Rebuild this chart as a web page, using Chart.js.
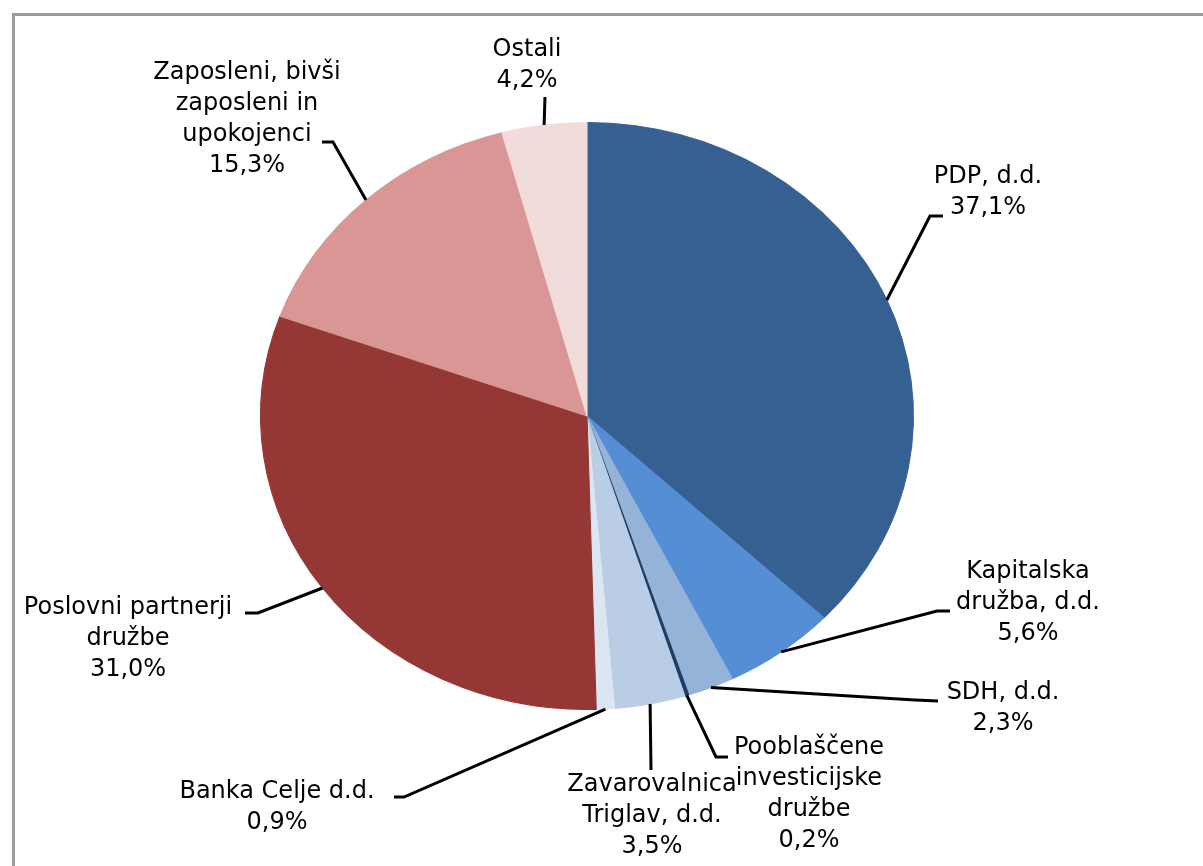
<!DOCTYPE html>
<html lang="sl">
  <head>
    <meta charset="UTF-8" />
    <title>Lastniška struktura</title>
  </head>
  <style>
    * {
      margin: 0;
      padding: 0;
    }
    body {
      width: 1203px;
      height: 866px;
      overflow: hidden;
      background: white;
      position: relative;
    }
    .frame {
      position: absolute;
      left: 12px;
      top: 13px;
      width: 1300px;
      height: 1000px;
      border: 3px solid #9c9c9c;
    }
    .chartBox {
      position: absolute;
      left: 0;
      top: 0;
      width: 1203px;
      height: 866px;
    }
  </style>
  <body>
    <div class="frame"></div>
    <div class="chartBox">
      <canvas id="myChart"></canvas>
    </div>

    <script src="https://cdn.jsdelivr.net/npm/chart.js"></script>

    <script>
      // data, clockwise from 12 o'clock
      const categories = [
        "PDP, d.d.",
        "Kapitalska družba, d.d.",
        "SDH, d.d.",
        "Pooblaščene investicijske družbe",
        "Zavarovalnica Triglav, d.d.",
        "Banka Celje d.d.",
        "Poslovni partnerji družbe",
        "Zaposleni, bivši zaposleni in upokojenci",
        "Ostali"
      ];
      const shares = [37.1, 5.6, 2.3, 0.2, 3.5, 0.9, 31.0, 15.3, 4.2];
      const labelLines = [
        ["PDP, d.d."],
        ["Kapitalska", "družba, d.d."],
        ["SDH, d.d."],
        ["Pooblaščene", "investicijske", "družbe"],
        ["Zavarovalnica", "Triglav, d.d."],
        ["Banka Celje d.d."],
        ["Poslovni partnerji", "družbe"],
        ["Zaposleni, bivši", "zaposleni in", "upokojenci"],
        ["Ostali"]
      ];
      const colors = [
        "#376092", "#558ED5", "#95B3D7", "#1F3D63", "#B9CDE5",
        "#DCE6F2", "#953735", "#D99694", "#F2DCDB"
      ];

      // label layout: text block centre (first line y) and leader line points after the slice anchor
      const labelLayout = [
        { x: 988, y: 177, leader: [[930, 216], [943, 216]] },
        { x: 1028, y: 572, leader: [[937, 611], [950, 611]] },
        { x: 1003, y: 693, leader: [[915, 700], [938, 701]] },
        { x: 809, y: 748, leader: [[716, 757], [728, 757]] },
        { x: 652, y: 785, leader: [[651, 770]] },
        { x: 277, y: 792, leader: [[404, 797], [394, 797]] },
        { x: 128, y: 608, leader: [[258, 613], [245, 613]] },
        { x: 247, y: 73, leader: [[333, 142], [322, 142]] },
        { x: 527, y: 50, leader: [[545, 97]] }
      ];

      const stretchX = 327 / 294;
      const lineHeight = 31;

      const ellipsePlugin = {
        id: "ellipse",
        beforeDatasetsDraw(chart) {
          const el = chart.getDatasetMeta(0).data[0];
          const ctx = chart.ctx;
          ctx.save();
          ctx.translate(el.x, 0);
          ctx.scale(stretchX, 1);
          ctx.translate(-el.x, 0);
        },
        afterDatasetsDraw(chart) {
          chart.ctx.restore();
        }
      };

      const labelPlugin = {
        id: "pieLabels",
        afterDraw(chart) {
          const ctx = chart.ctx;
          const arcs = chart.getDatasetMeta(0).data;
          ctx.save();
          ctx.strokeStyle = "#000";
          ctx.lineWidth = 3;
          ctx.lineJoin = "miter";
          arcs.forEach((arc, i) => {
            const mid = (arc.startAngle + arc.endAngle) / 2;
            const ax = arc.x + Math.cos(mid) * arc.outerRadius * stretchX;
            const ay = arc.y + Math.sin(mid) * arc.outerRadius;
            ctx.beginPath();
            ctx.moveTo(ax, ay);
            labelLayout[i].leader.forEach(p => ctx.lineTo(p[0], p[1]));
            ctx.stroke();

            const lines = labelLines[i].concat([shares[i].toFixed(1).replace(".", ",") + "%"]);
            ctx.fillStyle = "#000";
            ctx.font = "24px 'DejaVu Sans'";
            ctx.textAlign = "center";
            ctx.textBaseline = "middle";
            lines.forEach((t, k) => {
              ctx.fillText(t, labelLayout[i].x, labelLayout[i].y + k * lineHeight);
            });
          });
          ctx.restore();
        }
      };

      const data = {
        labels: categories,
        datasets: [
          {
            data: shares,
            backgroundColor: colors,
            borderColor: colors,
            borderWidth: 1
          }
        ]
      };

      const config = {
        type: "pie",
        data,
        options: {
          responsive: true,
          maintainAspectRatio: false,
          animation: false,
          layout: {
            padding: { top: 122, bottom: 156, left: 293, right: 322 }
          },
          plugins: {
            legend: { display: false },
            tooltip: { enabled: false }
          }
        },
        plugins: [ellipsePlugin, labelPlugin]
      };

      const myChart = new Chart(document.getElementById("myChart"), config);
    </script>
  </body>
</html>
